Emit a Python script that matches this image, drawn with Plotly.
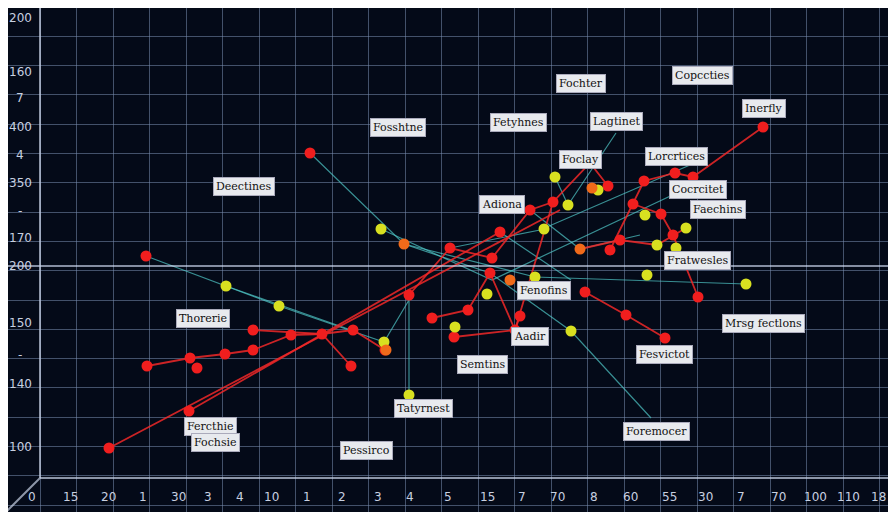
import plotly.graph_objects as go

# node positions (chart units, y grows downward)
red_x = [310, 146, 763, 693, 675, 644, 633, 661, 673, 698, 665, 626, 585, 608, 590, 553, 530, 492, 490, 450, 409, 432, 468, 454, 515, 520, 385, 351, 353, 322, 291, 253, 253, 225, 190, 197, 147, 189, 109, 500, 610, 620]
red_y = [153, 256, 127, 177, 173, 181, 204, 214, 235, 297, 338, 315, 292, 186, 163, 202, 210, 258, 273, 248, 295, 318, 310, 337, 330, 316, 350, 366, 330, 334, 335, 330, 350, 354, 358, 368, 366, 411, 448, 232, 250, 240]
yel_x = [555, 381, 226, 279, 384, 409, 455, 487, 535, 571, 544, 568, 598, 647, 657, 676, 645, 746, 686]
yel_y = [177, 229, 286, 306, 342, 395, 327, 294, 277, 331, 229, 205, 190, 275, 245, 248, 215, 284, 228]
org_x = [404, 580, 592, 386, 510]
org_y = [244, 249, 188, 350, 280]

# red links
red_lx = [109, 560, None, 189, 500, None, 147, 190, 225, 253, 291, 322, 353, 385, None, 253, 322, 351, None,
          409, 450, 492, 530, 553, 590, 608, None, 432, 468, 490, 515, 553, None, 454, 515, 520, None,
          585, 626, 665, None, 610, 644, 675, 693, 763, None, 633, 661, 673, 698, None, 580, 620, 657, 686]
red_ly = [448, 210, None, 411, 232, None, 366, 358, 354, 350, 335, 334, 330, 350, None, 330, 334, 366, None,
          295, 248, 258, 210, 202, 163, 186, None, 318, 310, 273, 330, 202, None, 337, 330, 316, None,
          292, 315, 338, None, 250, 181, 173, 177, 127, None, 204, 214, 235, 297, None, 249, 240, 245, 228]
# teal links
teal_lx = [310, 404, 490, 571, 651, None, 146, 279, 384, 409, 409, None, 226, 351, None, 381, 492, 698, None,
           555, 568, 616, None, 530, 580, 640, None, 404, 535, 746, None, 500, 571, None, 450, 540, 690]
teal_ly = [153, 244, 273, 331, 418, None, 256, 306, 342, 300, 395, None, 286, 330, None, 229, 280, 183, None,
           177, 205, 133, None, 210, 249, 235, None, 244, 277, 284, None, 232, 280, None, 248, 230, 165]

labels = ["Deectines", "Fosshtne", "Fetyhnes", "Fochter", "Copccties", "Inerfly", "Lagtinet", "Lorcrtices",
          "Foclay", "Cocrcitet", "Faechins", "Adiona", "Fratwesles", "Fenofins", "Aadir", "Semtins", "Thorerie",
          "Mrsg fectlons", "Fesvictot", "Tatyrnest", "Foremocer", "Fercthie", "Fochsie", "Pessirco"]
label_x = [244, 398, 518, 581, 702, 764, 616, 676, 580, 698, 718, 502, 697, 544, 530, 482, 203, 763, 664, 423, 656, 210, 215, 366]
label_y = [186, 127, 122, 83, 75, 108, 121, 156, 159, 189, 209, 204, 260, 290, 336, 364, 318, 323, 354, 408, 431, 426, 442, 450]

ytick_text = ["200", "160", "7", "400", "4", "350", "-", "170", "200", "150", "-", "140", "100"]
ytick_pos = [18, 72, 98, 127, 155, 183, 211, 238, 266, 323, 355, 384, 447]
xtick_text = ["0", "15", "20", "1", "30", "3", "4", "10", "1", "2", "3", "4", "5", "15", "7", "70", "8", "60",
              "55", "30", "7", "70", "100", "110", "18"]
xtick_pos = [32, 70, 108, 143, 178, 208, 240, 271, 307, 342, 378, 410, 448, 487, 522, 557, 594, 630, 669,
             705, 741, 778, 815, 848, 878]

fig = go.Figure()
fig.add_trace(go.Scatter(x=teal_lx, y=teal_ly, mode='lines', line=dict(color='rgba(80,200,200,0.7)', width=1.2), hoverinfo='skip'))
fig.add_trace(go.Scatter(x=red_lx, y=red_ly, mode='lines', line=dict(color='rgba(240,40,40,0.85)', width=1.8), hoverinfo='skip'))
fig.add_trace(go.Scatter(x=red_x, y=red_y, mode='markers', marker=dict(color='#f01e1e', size=11)))
fig.add_trace(go.Scatter(x=yel_x, y=yel_y, mode='markers', marker=dict(color='#d8e020', size=11)))
fig.add_trace(go.Scatter(x=org_x, y=org_y, mode='markers', marker=dict(color='#f06a1a', size=11)))

for t, x, y in zip(labels, label_x, label_y):
    fig.add_annotation(x=x, y=y, text=t, showarrow=False, bgcolor='#e8eaee', bordercolor='#aab',
                       borderpad=2, font=dict(family='DejaVu Serif', size=11, color='#111'))
for t, y in zip(ytick_text, ytick_pos):
    fig.add_annotation(x=20, y=y, text=t, showarrow=False, font=dict(family='DejaVu Sans', size=12, color='#c8d0e0'))
for t, x in zip(xtick_text, xtick_pos):
    fig.add_annotation(x=x, y=497, text=t, showarrow=False, font=dict(family='DejaVu Sans', size=12, color='#c8d0e0'))

# highlighted baseline and frame
fig.add_shape(type='line', x0=0, x1=904, y0=266, y1=266, line=dict(color='rgba(220,230,255,0.8)', width=1.5))
fig.add_shape(type='line', x0=40, x1=6, y0=478, y1=512, line=dict(color='rgba(200,210,230,0.7)', width=2))
fig.add_shape(type='line', x0=40, x1=904, y0=478, y1=478, line=dict(color='rgba(200,210,230,0.7)', width=2))
fig.add_shape(type='line', x0=40, x1=40, y0=0, y1=478, line=dict(color='rgba(200,210,230,0.7)', width=2))

fig.update_layout(
    width=896, height=512, margin=dict(l=0, r=0, t=0, b=0), showlegend=False,
    paper_bgcolor='#040a18', plot_bgcolor='#040a18',
    xaxis=dict(range=[8, 904], showticklabels=False, zeroline=False, tick0=40, dtick=36.5,
               gridcolor='rgba(120,140,175,0.55)', gridwidth=1),
    yaxis=dict(range=[520, 8], showticklabels=False, zeroline=False, tick0=7, dtick=29.3,
               gridcolor='rgba(120,140,175,0.55)', gridwidth=1),
)
fig.write_html("out.html")
